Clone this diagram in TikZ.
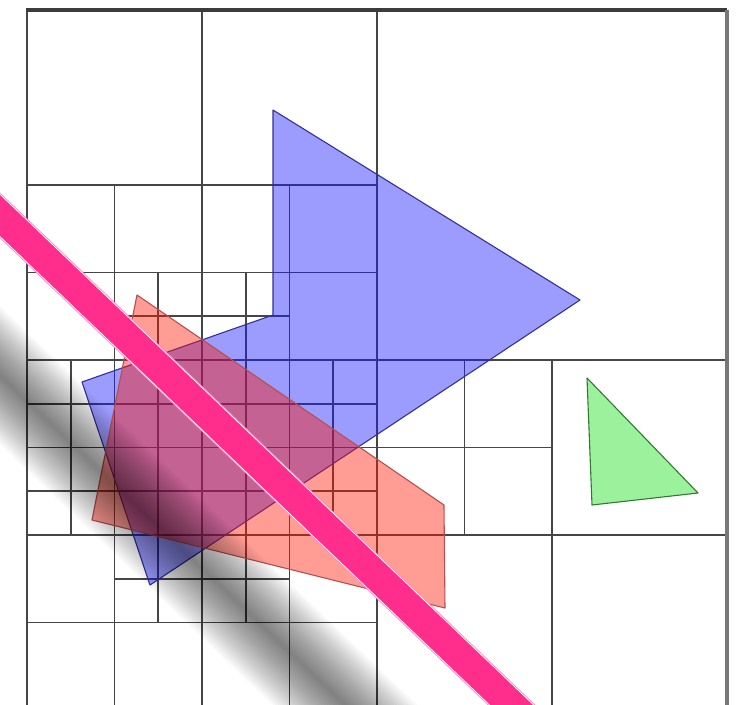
\documentclass[tikz,border=0pt]{standalone}
\definecolor{gridc}{RGB}{70,70,70}
\definecolor{borderc}{RGB}{120,120,120}
\definecolor{blueF}{RGB}{20,20,255}
\definecolor{blueE}{RGB}{50,50,150}
\definecolor{redF}{RGB}{255,20,0}
\definecolor{redE}{RGB}{180,80,80}
\definecolor{greenF}{RGB}{20,225,20}
\definecolor{greenE}{RGB}{50,120,50}
\definecolor{pinkc}{RGB}{255,45,140}
\begin{document}
\begin{tikzpicture}[x=1pt,y=-1pt,
  gridline/.style={draw=gridc,line width=1.8pt},
  polyshape/.style={fill opacity=0.42,line width=1.1pt,line join=round},
  shadowstroke/.style={draw=black,opacity=0.022,line cap=butt}]
\useasboundingbox (0,0) rectangle (740,705);
\fill[white] (0,0) rectangle (740,705);
\begin{scope}
\clip (0,0) rectangle (740,705);
% quadtree grid
\begin{scope}[shift={(27,10)},x=43.75pt,y=-43.75pt]
  \draw[gridline] (8,0)--(8,16) (0,8)--(16,8);
  \draw[gridline] (4,0)--(4,16) (0,4)--(8,4);
  \draw[gridline] (2,4)--(2,16) (6,4)--(6,16) (0,6)--(8,6);
  \draw[gridline] (3,6)--(3,14) (5,6)--(5,14) (2,7)--(6,7);
  \draw[gridline] (1,8)--(1,12) (7,8)--(7,12);
  \draw[gridline] (0,9)--(8,9) (0,10)--(12,10) (0,11)--(8,11);
  \draw[gridline] (0,12)--(16,12) (12,8)--(12,16) (10,8)--(10,12);
  \draw[gridline] (2,13)--(6,13) (0,14)--(8,14);
  \draw[draw=gridc,line width=2.2pt] (0,0)--(0,16.2);
  \draw[draw=gridc!85!black,line width=3.2pt] (-0.03,0)--(16,0);
  \draw[draw=borderc,line width=3.2pt] (16,0)--(16,16.2);
\end{scope}
% polygons
\coordinate (b1) at (273,110);
\coordinate (b2) at (580,300);
\coordinate (b3) at (150,585);
\coordinate (b4) at (82,382);
\coordinate (b5) at (273,315);
\draw[polyshape,fill=blueF,draw=blueE] (b1)--(b2)--(b3)--(b4)--(b5)--cycle;
\coordinate (r1) at (137,295);
\coordinate (r2) at (444,505);
\coordinate (r3) at (445,608);
\coordinate (r4) at (92,520);
\draw[polyshape,fill=redF,draw=redE] (r1)--(r2)--(r3)--(r4)--cycle;
\coordinate (g1) at (587,378);
\coordinate (g2) at (698,493);
\coordinate (g3) at (592,505);
\draw[polyshape,fill=greenF,draw=greenE] (g1)--(g2)--(g3)--cycle;
% blurred shadow
\coordinate (s1) at (-60,318);
\coordinate (s2) at (640,987);
\foreach \w in {100,96,...,4}{
  \draw[shadowstroke,line width=\w pt] (s1)--(s2);
}
% pink bar
\coordinate (p1) at (-60,158);
\coordinate (p2) at (660,847);
\draw[draw=pinkc!55,line width=33pt] (p1)--(p2);
\draw[draw=white,line width=31.2pt] (p1)--(p2);
\draw[draw=pinkc,line width=29.5pt] (p1)--(p2);
\end{scope}
\end{tikzpicture}
\end{document}
